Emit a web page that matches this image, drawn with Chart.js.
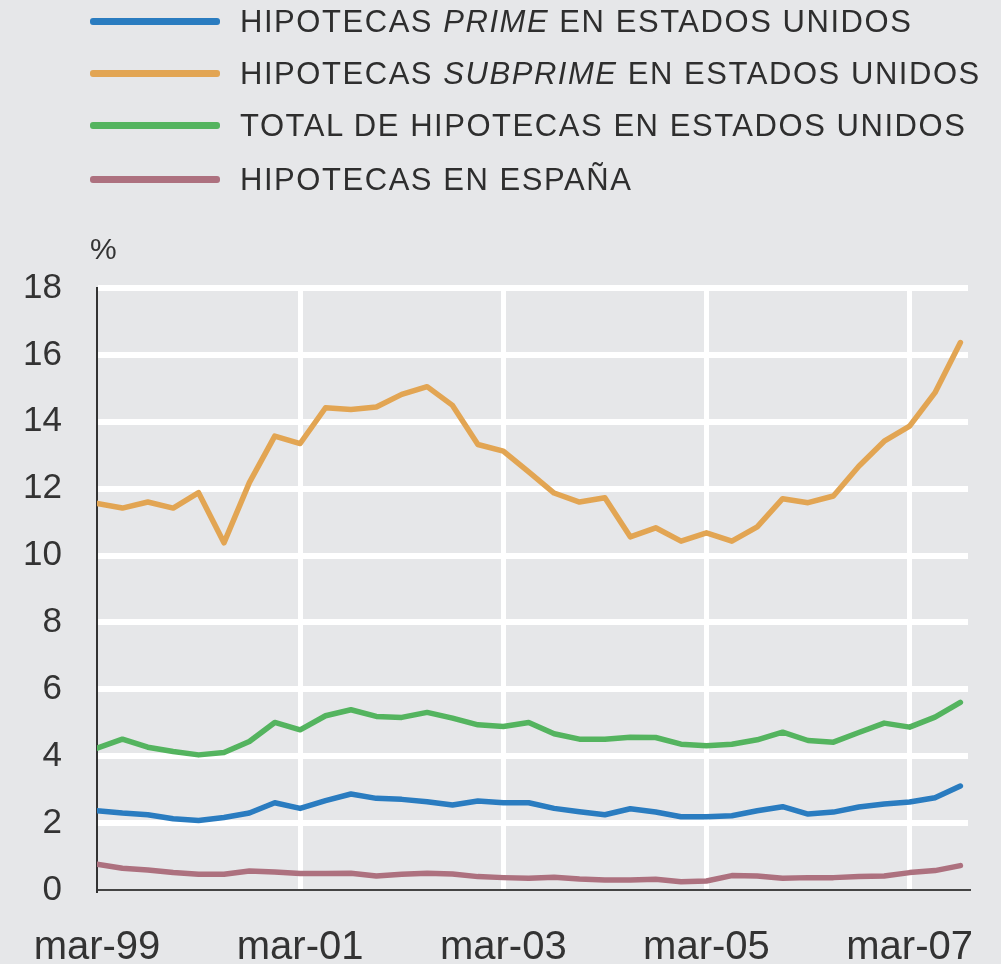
<!DOCTYPE html>
<html>
<head>
<meta charset="utf-8">
<script src="https://cdn.jsdelivr.net/npm/chart.js@4.4.1/dist/chart.umd.min.js"></script>
<style>
body{margin:0;background:#e6e7e9;}
#wrap{position:relative;width:1001px;height:964px;overflow:hidden;}
#chart{position:absolute;left:0;top:0;}
.row{position:absolute;left:0;width:1001px;height:36px;font:31px 'Liberation Sans',Arial,sans-serif;color:#2e2e2e;letter-spacing:1.55px;white-space:nowrap;}
.row .sw{position:absolute;left:90px;top:14px;width:130px;height:7px;border-radius:3px;}
.row .tx{position:absolute;left:240px;top:0;line-height:36px;}
#pct{position:absolute;left:90px;top:232px;font:30px 'Liberation Sans',Arial,sans-serif;color:#333;}
</style>
</head>
<body>
<div id="wrap">
  <canvas id="chart" width="1001" height="964"></canvas>
  <div id="legend"></div>
  <div id="pct">%</div>
</div>
<script>
// quarterly observations, mar-99 .. sep-07
var quarters = ['mar-99','jun-99','sep-99','dic-99','mar-00','jun-00','sep-00','dic-00',
  'mar-01','jun-01','sep-01','dic-01','mar-02','jun-02','sep-02','dic-02',
  'mar-03','jun-03','sep-03','dic-03','mar-04','jun-04','sep-04','dic-04',
  'mar-05','jun-05','sep-05','dic-05','mar-06','jun-06','sep-06','dic-06',
  'mar-07','jun-07','sep-07'];

var prime = [2.37,2.30,2.25,2.13,2.08,2.17,2.30,2.61,2.44,2.67,2.87,2.74,
  2.71,2.64,2.54,2.66,2.61,2.61,2.44,2.34,2.25,2.43,2.33,2.19,
  2.19,2.22,2.37,2.49,2.27,2.33,2.48,2.57,2.63,2.76,3.11];

var subprime = [11.56,11.42,11.60,11.42,11.88,10.38,12.18,13.57,13.35,14.42,14.37,14.44,
  14.82,15.05,14.49,13.32,13.12,12.50,11.87,11.60,11.73,10.56,10.83,10.43,
  10.68,10.43,10.86,11.70,11.58,11.78,12.67,13.42,13.87,14.87,16.37];

var total = [4.24,4.51,4.27,4.14,4.04,4.11,4.44,5.01,4.79,5.21,5.39,5.19,
  5.16,5.31,5.14,4.94,4.89,5.01,4.67,4.51,4.51,4.57,4.56,4.36,
  4.31,4.36,4.49,4.72,4.47,4.42,4.71,4.99,4.87,5.17,5.61];

var spain = [0.77,0.65,0.60,0.52,0.47,0.47,0.57,0.54,0.49,0.49,0.50,0.42,
  0.47,0.50,0.48,0.40,0.37,0.35,0.38,0.33,0.30,0.30,0.32,0.25,
  0.27,0.43,0.42,0.35,0.37,0.37,0.40,0.42,0.52,0.58,0.73];

var seriesNames = ['HIPOTECAS <i>PRIME</i> EN ESTADOS UNIDOS',
  'HIPOTECAS <i>SUBPRIME</i> EN ESTADOS UNIDOS',
  'TOTAL DE HIPOTECAS EN ESTADOS UNIDOS',
  'HIPOTECAS EN ESPAÑA'];
var colors = ['#2a7cc0','#e2a553','#54b45f','#ad717f'];
var yTicks = [0,2,4,6,8,10,12,14,16,18];
var xTickIdx = [0,8,16,24,32];

// legend (html so the italic words stay italic)
var legendTops = [4,56,108,162];
var legend = document.getElementById('legend');
seriesNames.forEach(function(name, i){
    var row = document.createElement('div');
    row.className = 'row';
    row.style.top = legendTops[i] + 'px';
    row.innerHTML = '<div class="sw" style="background:' + colors[i] + '"></div><div class="tx">' + name + '</div>';
    legend.appendChild(row);
});

function toPoints(arr){
    return arr.map(function(v, i){ return {x: i, y: v}; });
}

var fontFamily = "'Liberation Sans', Arial, sans-serif";

var ctx = document.getElementById('chart').getContext('2d');
var myChart = new Chart(ctx, {
    type: 'line',
    data: {
        datasets: [prime, subprime, total, spain].map(function(arr, i){
            return {
                label: seriesNames[i].replace(/<\/?i>/g, ''),
                data: toPoints(arr),
                borderColor: colors[i],
                borderWidth: 5.5,
                pointRadius: 0,
                tension: 0,
                borderJoinStyle: 'round',
                borderCapStyle: 'round'
            };
        })
    },
    options: {
        responsive: false,
        animation: false,
        devicePixelRatio: 1,
        layout: {padding: {top: 288, right: 33, left: 0, bottom: 0}},
        plugins: {legend: {display: false}, tooltip: {enabled: false}},
        scales: {
            x: {
                type: 'linear',
                min: 0,
                max: 34.3,
                afterFit: function(s){ s.height = 74; s.paddingLeft = 0; s.paddingRight = 0; },
                afterBuildTicks: function(s){ s.ticks = xTickIdx.map(function(v){ return {value: v}; }); },
                ticks: {
                    font: {family: fontFamily, size: 40},
                    color: '#333',
                    padding: 34,
                    maxRotation: 0,
                    autoSkip: false,
                    callback: function(v){ return quarters[v]; }
                },
                grid: {
                    drawTicks: false,
                    lineWidth: 5,
                    color: function(c){ return c.tick && c.tick.value === 0 ? 'rgba(0,0,0,0)' : '#ffffff'; }
                },
                border: {display: true, color: '#444', width: 2}
            },
            y: {
                min: 0,
                max: 18,
                afterFit: function(s){ s.width = 97; },
                afterBuildTicks: function(s){ s.ticks = yTicks.map(function(v){ return {value: v}; }); },
                ticks: {font: {family: fontFamily, size: 35}, color: '#333', padding: 35},
                grid: {
                    drawTicks: false,
                    lineWidth: 6,
                    color: function(c){ return c.tick && c.tick.value === 0 ? 'rgba(0,0,0,0)' : '#ffffff'; }
                },
                border: {display: true, color: '#333', width: 2}
            }
        }
    }
});
</script>
</body>
</html>
